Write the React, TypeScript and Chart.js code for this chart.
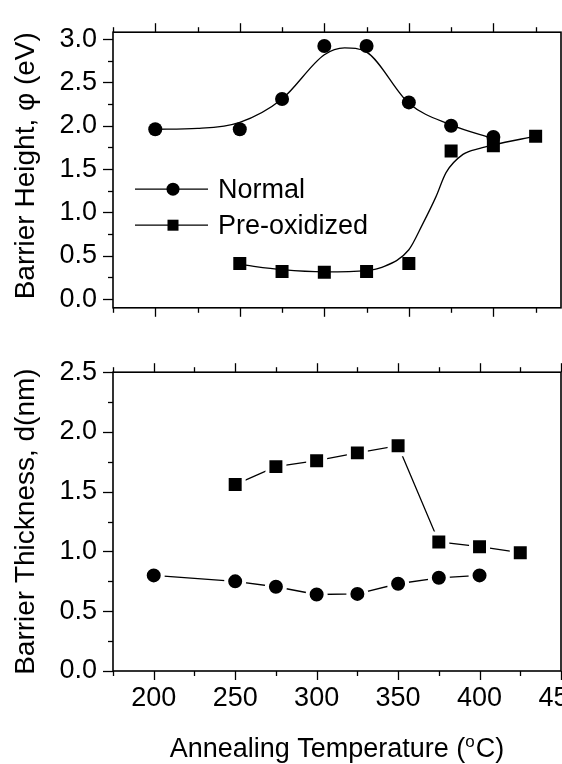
import React, { useEffect, useRef } from "react";
import { Chart, registerables } from "chart.js";

Chart.register(...registerables);

const FONT = "'Liberation Sans', Arial, Helvetica, sans-serif";

// ---------- data ----------
const seriesNames = ["Normal", "Pre-oxidized"];

// Top panel: barrier height (eV)
const heightTemps = [200, 250, 275, 300, 325, 350, 375, 400, 425];
const normalHeight = [1.96, 1.96, 2.31, 2.92, 2.92, 2.27, 2.0, 1.87, null];
const preoxHeight = [null, 0.41, 0.32, 0.31, 0.32, 0.41, 1.71, 1.77, 1.88];

// fitted guide curves
const normalFitTemps = [200, 225, 250, 275, 300, 312, 325, 350, 375, 400];
const normalFitHeight = [1.96, 1.97, 2.04, 2.31, 2.82, 2.9, 2.85, 2.26, 2.01, 1.85];
const preoxFitTemps = [250, 275, 300, 325, 333, 350, 358, 366, 372, 382, 392, 400, 425];
const preoxFitHeight = [0.4, 0.34, 0.315, 0.33, 0.36, 0.57, 0.86, 1.18, 1.46, 1.67, 1.74, 1.78, 1.88];

// Bottom panel: barrier thickness (nm)
const thickTemps = [200, 250, 275, 300, 325, 350, 375, 400, 425];
const normalThick = [0.8, 0.75, 0.705, 0.64, 0.645, 0.73, 0.78, 0.8, null];
const preoxThick = [null, 1.56, 1.71, 1.76, 1.825, 1.885, 1.08, 1.04, 0.99];

// axis settings
const topXRange = [175, 440];
const topYRange = [-0.1, 3.08];
const botXRange = [175, 450];
const botYRange = [0, 2.5];
const xMajor = 50;
const xMinor = 25;
const yMajor = 0.5;
const yMinor = 0.25;

const topYTitle = "Barrier Height, \u03c6 (eV)";
const botYTitle = "Barrier Thickness, d(nm)";
const xTitleParts = ["Annealing Temperature (", "o", "C)"];

// ---------- helpers ----------
function pts(xs: number[], ys: (number | null)[]) {
  const out: { x: number; y: number }[] = [];
  xs.forEach((x, i) => {
    const y = ys[i];
    if (y !== null && y !== undefined) out.push({ x, y });
  });
  return out;
}

const framePlugin = {
  id: "frameTicks",
  afterDraw(chart: any, _args: any, opts: any) {
    const { ctx, chartArea: a, scales } = chart;
    const xs = scales.x;
    const ys = scales.y;
    ctx.save();
    ctx.strokeStyle = "#000";
    ctx.lineCap = "butt";
    const seg = (x1: number, y1: number, x2: number, y2: number) => {
      ctx.beginPath();
      ctx.moveTo(x1, y1);
      ctx.lineTo(x2, y2);
      ctx.stroke();
    };
    ctx.lineWidth = 1.3;
    for (let v = Math.ceil(xs.min / xMinor) * xMinor; v <= xs.max + 1e-9; v += xMinor) {
      const px = Math.round(xs.getPixelForValue(v)) + 0.5;
      const major = Math.abs(v / xMajor - Math.round(v / xMajor)) < 1e-9;
      const len = major ? 9 : 5;
      seg(px, a.bottom, px, a.bottom + len);
      if (opts && opts.topTicks) seg(px, a.top, px, a.top - len);
    }
    for (let v = Math.ceil(ys.min / yMinor) * yMinor; v <= ys.max + 1e-9; v += yMinor) {
      const py = Math.round(ys.getPixelForValue(v)) + 0.5;
      const major = Math.abs(v / yMajor - Math.round(v / yMajor)) < 1e-9;
      const len = major ? 10 : 5;
      seg(a.left, py, a.left - len, py);
    }
    ctx.lineWidth = 1.6;
    ctx.strokeRect(a.left, a.top, a.right - a.left, a.bottom - a.top);

    // x-axis title with superscript degree "o"
    if (opts && opts.xTitle) {
      const big = "27px " + FONT;
      const small = "17px " + FONT;
      ctx.fillStyle = "#000";
      ctx.textBaseline = "alphabetic";
      ctx.textAlign = "left";
      ctx.font = big;
      const w1 = ctx.measureText(xTitleParts[0]).width;
      const w3 = ctx.measureText(xTitleParts[2]).width;
      ctx.font = small;
      const w2 = ctx.measureText(xTitleParts[1]).width + 1;
      const total = w1 + w2 + w3;
      const cx = (a.left + a.right) / 2;
      const baseY = chart.height - 7;
      let x = cx - total / 2;
      ctx.font = big;
      ctx.fillText(xTitleParts[0], x, baseY);
      x += w1;
      ctx.font = small;
      ctx.fillText(xTitleParts[1], x, baseY - 10);
      x += w2;
      ctx.font = big;
      ctx.fillText(xTitleParts[2], x, baseY);
    }
    ctx.restore();
  },
};

const legendPlugin = {
  id: "inlineLegend",
  afterDraw(chart: any) {
    const { ctx, chartArea: a } = chart;
    const rows = [
      { label: seriesNames[0], style: "circle", dy: 157 },
      { label: seriesNames[1], style: "rect", dy: 193 },
    ];
    ctx.save();
    ctx.strokeStyle = "#000";
    ctx.fillStyle = "#000";
    ctx.lineWidth = 1.3;
    rows.forEach((r) => {
      const y = a.top + r.dy;
      const x0 = a.left + 22;
      const xm = a.left + 60;
      const x1 = a.left + 95;
      ctx.beginPath();
      ctx.moveTo(x0, y);
      ctx.lineTo(x1, y);
      ctx.stroke();
      if (r.style === "circle") {
        ctx.beginPath();
        ctx.arc(xm, y, 6.5, 0, Math.PI * 2);
        ctx.fill();
      } else {
        ctx.fillRect(xm - 5.5, y - 5.5, 11, 11);
      }
      ctx.font = "27px " + FONT;
      ctx.textBaseline = "middle";
      ctx.textAlign = "left";
      ctx.fillText(r.label, a.left + 105, y + 1);
    });
    ctx.restore();
  },
};

const tickFont = { family: FONT, size: 27 };
const yTitleFont = { family: FONT, size: 28 };

function yAxis(range: number[], title: string, align: string) {
  return {
    type: "linear",
    min: range[0],
    max: range[1],
    afterFit: (s: any) => {
      s.width = 113;
    },
    grid: { display: false, drawTicks: false },
    border: { display: false },
    ticks: {
      stepSize: yMajor,
      includeBounds: false,
      padding: 16,
      color: "#000",
      font: tickFont,
      callback: (v: any) => Number(v).toFixed(1),
    },
    title: {
      display: true,
      text: title,
      align,
      color: "#000",
      font: yTitleFont,
      padding: { top: 9, bottom: 0 },
    },
  };
}

export default function App() {
  const topRef = useRef<HTMLCanvasElement | null>(null);
  const botRef = useRef<HTMLCanvasElement | null>(null);

  useEffect(() => {
    const common = {
      animation: false,
      responsive: false,
      devicePixelRatio: 1,
      events: [],
      plugins: { legend: { display: false }, tooltip: { enabled: false } },
    };

    const top = new Chart(topRef.current as HTMLCanvasElement, {
      type: "line",
      data: {
        datasets: [
          {
            label: seriesNames[0] + " fit",
            data: pts(normalFitTemps, normalFitHeight),
            borderColor: "#000",
            borderWidth: 1.3,
            pointRadius: 0,
            cubicInterpolationMode: "monotone",
            fill: false,
            order: 3,
          },
          {
            label: seriesNames[1] + " fit",
            data: pts(preoxFitTemps, preoxFitHeight),
            borderColor: "#000",
            borderWidth: 1.3,
            pointRadius: 0,
            cubicInterpolationMode: "monotone",
            fill: false,
            order: 3,
          },
          {
            label: seriesNames[1],
            data: pts(heightTemps, preoxHeight),
            showLine: false,
            pointStyle: "rect",
            pointRadius: 9.2,
            pointBackgroundColor: "#000",
            pointBorderColor: "#000",
            pointBorderWidth: 0,
            order: 2,
          },
          {
            label: seriesNames[0],
            data: pts(heightTemps, normalHeight),
            showLine: false,
            pointStyle: "circle",
            pointRadius: 7,
            pointBackgroundColor: "#000",
            pointBorderColor: "#000",
            pointBorderWidth: 0,
            order: 1,
          },
        ],
      },
      options: {
        ...common,
        layout: { padding: { top: 17, right: 39, left: 0, bottom: 0 } },
        scales: {
          x: {
            type: "linear",
            min: topXRange[0],
            max: topXRange[1],
            afterFit: (s: any) => {
              s.height = 18;
            },
            grid: { display: false, drawTicks: false },
            border: { display: false },
            ticks: { display: false, stepSize: xMajor },
          },
          y: yAxis(topYRange, topYTitle, "end"),
        },
        plugins: {
          ...common.plugins,
          frameTicks: { topTicks: true, xTitle: false },
        },
      },
      plugins: [framePlugin, legendPlugin],
    } as any);

    const bot = new Chart(botRef.current as HTMLCanvasElement, {
      type: "line",
      data: {
        datasets: [
          {
            label: seriesNames[1],
            data: pts(thickTemps, preoxThick),
            borderColor: "#000",
            borderWidth: 1.3,
            tension: 0,
            pointStyle: "rect",
            pointRadius: 12,
            pointBackgroundColor: "#000",
            pointBorderColor: "#fff",
            pointBorderWidth: 4,
            fill: false,
          },
          {
            label: seriesNames[0],
            data: pts(thickTemps, normalThick),
            borderColor: "#000",
            borderWidth: 1.3,
            tension: 0,
            pointStyle: "circle",
            pointRadius: 9,
            pointBackgroundColor: "#000",
            pointBorderColor: "#fff",
            pointBorderWidth: 4,
            fill: false,
          },
        ],
      },
      options: {
        ...common,
        layout: { padding: { top: 26, right: 39, left: 0, bottom: 0 } },
        scales: {
          x: {
            type: "linear",
            min: botXRange[0],
            max: botXRange[1],
            afterFit: (s: any) => {
              s.height = 93;
            },
            grid: { display: false, drawTicks: false },
            border: { display: false },
            ticks: {
              stepSize: xMajor,
              includeBounds: false,
              autoSkip: false,
              maxRotation: 0,
              padding: 11,
              color: "#000",
              font: tickFont,
            },
            title: { display: false },
          },
          y: yAxis(botYRange, botYTitle, "center"),
        },
        plugins: {
          ...common.plugins,
          frameTicks: { topTicks: true, xTitle: true },
        },
      },
      plugins: [framePlugin],
    } as any);

    return () => {
      top.destroy();
      bot.destroy();
    };
  }, []);

  return (
    <div
      style={{
        position: "absolute",
        left: 0,
        top: 0,
        width: 562,
        height: 764,
        overflow: "hidden",
        background: "#fff",
      }}
    >
      <canvas ref={topRef} width={600} height={340} style={{ position: "absolute", left: 0, top: 0 }} />
      <canvas ref={botRef} width={600} height={424} style={{ position: "absolute", left: 0, top: 340 }} />
    </div>
  );
}
